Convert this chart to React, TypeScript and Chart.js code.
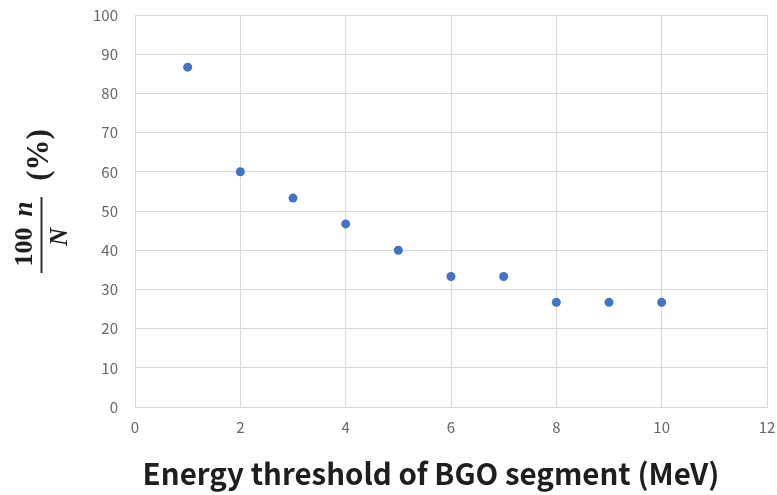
import React, { useEffect, useRef } from "react";
import { Chart, registerables } from "chart.js";
Chart.register(...registerables);

const thresholds = [1, 2, 3, 4, 5, 6, 7, 8, 9, 10];
const percentages = [86.7, 60, 53.3, 46.7, 40, 33.3, 33.3, 26.7, 26.7, 26.7];
const xTitle = "Energy threshold of BGO segment (MeV)";
const yNumerator = "100";
const yNumeratorVar = "n";
const yDenominator = "N";
const yUnit = "(%)";

const titlesPlugin = {
  id: "titles",
  afterDraw(chart: any) {
    const ctx = chart.ctx as CanvasRenderingContext2D;
    ctx.save();
    // X title
    let size = 27;
    ctx.font = `bold ${size}px "Noto Sans CJK JP", "Noto Sans", sans-serif`;
    const w = ctx.measureText(xTitle).width;
    size = Math.max(22, Math.min(32, (size * 577) / w));
    ctx.font = `bold ${size}px "Noto Sans CJK JP", "Noto Sans", sans-serif`;
    ctx.fillStyle = "#1e1e1e";
    ctx.textAlign = "center";
    ctx.textBaseline = "alphabetic";
    ctx.fillText(xTitle, 431, 485);

    // Y title (rotated fraction)
    const drawRot = (text: string, x: number, y: number, font: string, align: CanvasTextAlign = "center") => {
      ctx.save();
      ctx.translate(x, y);
      ctx.rotate(-Math.PI / 2);
      ctx.font = font;
      ctx.textAlign = align;
      ctx.textBaseline = "alphabetic";
      ctx.fillStyle = "#1e1e1e";
      ctx.fillText(text, 0, 0);
      ctx.restore();
    };
    const serif = `"Liberation Serif", "DejaVu Serif", serif`;
    drawRot(yNumerator, 32, 247, `bold 26px ${serif}`);
    drawRot(yNumeratorVar, 32, 209, `italic bold 27px ${serif}`);
    ctx.fillStyle = "#333";
    ctx.fillRect(40.5, 197, 2, 76);
    drawRot(yDenominator, 67, 237, `italic bold 25px ${serif}`);
    drawRot(yUnit, 48, 155, `bold 31px ${serif}`);
    ctx.restore();
  },
};

export default function App() {
  const ref = useRef<HTMLCanvasElement | null>(null);
  useEffect(() => {
    if (!ref.current) return;
    const tickFont = { family: '"Noto Sans CJK JP", "Noto Sans", sans-serif', size: 15 };
    const chart = new Chart(ref.current, {
      type: "scatter",
      data: {
        datasets: [
          {
            data: thresholds.map((x, i) => ({ x, y: percentages[i] })),
            backgroundColor: "#4472C4",
            borderColor: "#4472C4",
            pointRadius: 4.5,
            pointHoverRadius: 4.5,
            borderWidth: 0,
          },
        ],
      },
      options: {
        responsive: false,
        animation: false,
        layout: { padding: { top: 15, right: 10, left: 0, bottom: 0 } },
        plugins: { legend: { display: false }, tooltip: { enabled: false } },
        scales: {
          x: {
            type: "linear",
            min: 0,
            max: 12,
            ticks: { stepSize: 2, color: "#666666", font: tickFont, padding: 11, autoSkip: false },
            grid: { color: "#d9d9d9", drawTicks: false },
            border: { color: "#d9d9d9" },
            afterFit: (s: any) => {
              s.height = 88;
              s.paddingLeft = 0;
              s.paddingRight = 0;
            },
          },
          y: {
            type: "linear",
            min: 0,
            max: 100,
            ticks: { stepSize: 10, color: "#666666", font: tickFont, padding: 17 },
            grid: { color: "#d9d9d9", drawTicks: false },
            border: { color: "#d9d9d9" },
            afterFit: (s: any) => {
              s.width = 135;
              s.paddingTop = 0;
              s.paddingBottom = 0;
            },
          },
        },
      },
      plugins: [titlesPlugin],
    } as any);
    return () => chart.destroy();
  }, []);
  return (
    <div style={{ position: "fixed", left: 0, top: 0, width: 777, height: 495, background: "#fff" }}>
      <canvas ref={ref} width={777} height={495} style={{ width: 777, height: 495 }} />
    </div>
  );
}
